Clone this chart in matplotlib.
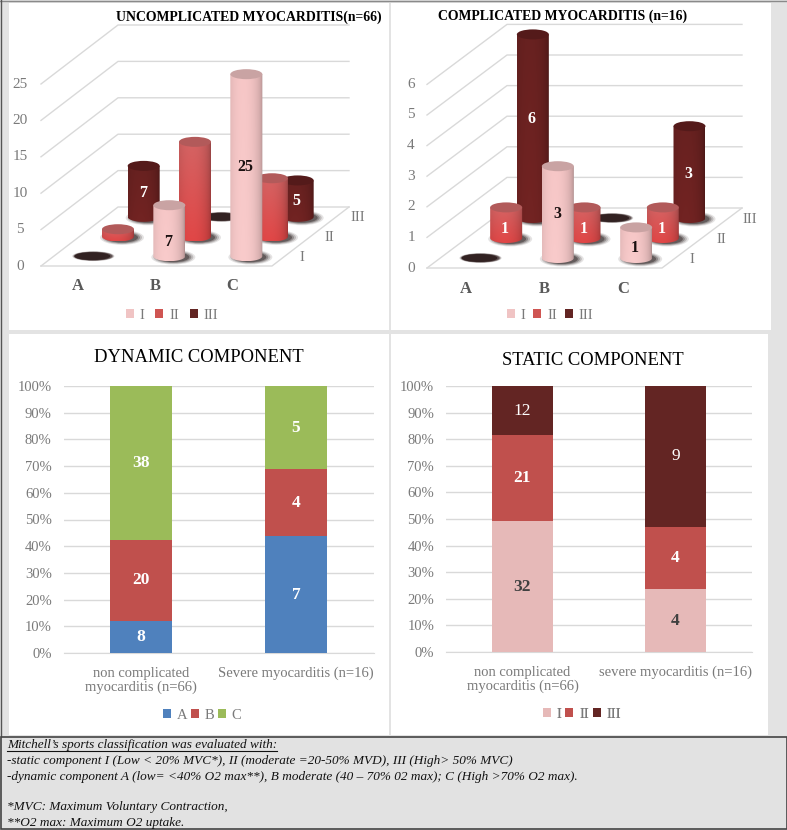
import matplotlib
matplotlib.use('Agg')
import matplotlib.pyplot as plt
import numpy as np
from matplotlib.colors import to_rgb
from matplotlib.patches import Ellipse, PathPatch, Patch, Rectangle
from matplotlib.path import Path

plt.rcParams['font.family'] = ['Liberation Serif', 'DejaVu Serif']

W, H = 787, 830

# top charts: counts per dynamic class A, B, C
categories_top = ['A', 'B', 'C']
static_names = ['I', 'II', 'III']
uncomp_I = [0, 7, 25]
uncomp_II = [1, 13, 8]
uncomp_III = [7, 0, 5]
uncomp_ticks = [0, 5, 10, 15, 20, 25]
comp_I = [0, 3, 1]
comp_II = [1, 1, 1]
comp_III = [6, 0, 3]
comp_ticks = [0, 1, 2, 3, 4, 5, 6]

# bottom charts
dyn_labels = ['non complicated\nmyocarditis (n=66)', 'Severe myocarditis (n=16)']
dyn_A = [8, 7]
dyn_B = [20, 4]
dyn_C = [38, 5]
sta_labels = ['non complicated\nmyocarditis (n=66)', 'severe myocarditis (n=16)']
sta_I = [32, 4]
sta_II = [21, 4]
sta_III = [12, 9]

notes = [
    "Mitchell\u2019s sports classification was evaluated with:",
    "-static component I (Low < 20% MVC*), II (moderate =20-50% MVD), III (High> 50% MVC)",
    "-dynamic component A (low= <40% O2 max**), B moderate (40 \u2013 70% 02 max); C (High >70% O2 max).",
    "",
    "*MVC: Maximum Voluntary Contraction,",
    "**O2 max: Maximum O2 uptake.",
]

PINK, RED, DARK = '#e6b9b8', '#c0504d', '#632523'
GRID = '#d9d9d9'
TICK = '#7a7a7a'
# body top colour, body bottom colour, lid colour
CYL = [('#edbfbf', '#efc3c3', '#c9a3a3'),
       ('#cc5f5f', '#d84444', '#b25a5a'),
       ('#64201f', '#6e2221', '#541a1a')]

fig = plt.figure(figsize=(W / 100, H / 100), dpi=100, facecolor='#e3e3e3')
bg = fig.add_axes([0, 0, 1, 1])
bg.set_xlim(0, W)
bg.set_ylim(H, 0)
bg.axis('off')
bg.autoscale(False)

for x0, y0, x1, y1 in [(9, 3, 389, 330), (391, 3, 771, 330), (9, 334, 389, 735), (391, 334, 768, 735)]:
    bg.add_patch(Rectangle((x0, y0), x1 - x0, y1 - y0, fc='white', ec='none', zorder=0))
bg.plot([0, W], [1, 1], color='#8a8a8a', lw=1, zorder=0.5)
bg.plot([0.5, 0.5], [0, 737], color='#555555', lw=1, zorder=0.5)


def add_legend(names, colors, xy, spacing):
    h = [Patch(fc=c, ec='none') for c in colors]
    leg = bg.legend(h, names, ncol=3, loc='center', bbox_to_anchor=xy, bbox_transform=bg.transData,
                    frameon=False, fontsize=10.5, labelcolor=TICK, handlelength=0.55, handleheight=0.55,
                    handletextpad=0.4, columnspacing=spacing)
    bg.add_artist(leg)


def cylinder(cx, base, h, r, ry, cols):
    # soft shadow on the floor
    for k, a in zip([6, 4, 2, 0], [0.12, 0.2, 0.3, 0.45]):
        bg.add_patch(Ellipse((cx + 4, base + 1), 2 * r + k * 2, 2 * ry + k * 0.8,
                             fc='#2a2020', ec='none', alpha=a, zorder=3))
    t = np.linspace(0, np.pi, 40)
    xs = np.concatenate([[cx - r, cx + r], cx + r * np.cos(t)])
    ys = np.concatenate([[base - h, base - h], base + ry * np.sin(t)])
    clip = PathPatch(Path(np.column_stack([xs, ys])), fc='none', ec='none', zorder=3)
    bg.add_patch(clip)
    # shading across the body, colour drifting a little from top to bottom
    u = (np.linspace(-1, 1, 60) + 0.2) / 1.2
    shade = 0.72 + 0.32 * np.sqrt(np.clip(1 - u ** 2, 0, 1))
    top, bot = np.array(to_rgb(cols[0])), np.array(to_rgb(cols[1]))
    mix = np.linspace(0, 1, 30)[:, None, None]
    img = (top[None, None, :] * (1 - mix) + bot[None, None, :] * mix) * shade[None, :, None]
    im = bg.imshow(np.clip(img, 0, 1), extent=(cx - r, cx + r, base + ry, base - h),
                   aspect='auto', zorder=3, interpolation='bilinear')
    im.set_clip_path(clip)
    bg.add_patch(Ellipse((cx, base - h), 2 * r, 2 * ry, fc=cols[2], ec='none', zorder=3))


def flat_disc(cx, base, r, ry):
    for k, a in zip([3, 2, 1], [0.2, 0.35, 0.5]):
        bg.add_patch(Ellipse((cx + 1, base), 2 * r + k * 2, 2 * ry + k * 0.6,
                             fc='#2a1818', ec='none', alpha=a, zorder=3))
    bg.add_patch(Ellipse((cx, base), 2 * r, 2 * ry, fc='#2a1a1a', ec='none', alpha=0.85, zorder=3))


def chart_3d(series, ticks, origin, width, depth, unit, cat_y, cat_shift, label_II, nudge, title, title_xy,
             tick_x, depth_labels, legend_xy, legend_gap):
    ox, oy = origin
    cat_w = width / len(categories_top)
    dx, dy = depth[0] / 3, depth[1] / 3

    def proj(c, s, v):
        # category, series row and value to position in the picture
        return ox + c * cat_w + s * dx, oy + s * dy - v * unit

    for v in ticks:
        a = proj(0, 0, v)
        b = proj(0, 3, v)
        c = proj(3, 3, v)
        bg.plot([a[0], b[0], c[0]], [a[1], b[1], c[1]], color=GRID, lw=1, zorder=1)
        bg.text(tick_x, a[1], str(v), color=TICK, fontsize=11, ha='center', va='center')
    f = [proj(0, 0, 0), proj(3, 0, 0), proj(3, 3, 0)]
    bg.plot([p[0] for p in f], [p[1] for p in f], color=GRID, lw=1, zorder=1)

    for i, name in enumerate(categories_top):
        bg.text(ox + (i + 0.5) * cat_w + cat_shift, cat_y, name, color='#595959', fontsize=12,
                fontweight='bold', ha='center', va='center')

    r, ry = 16, 5
    for s in [2, 1, 0]:
        for c, v in enumerate(series[s]):
            cx, base = proj(c + 0.5, s + 0.5, 0)
            if v == 0:
                flat_disc(cx, base, 18, 4)
                continue
            h = v * unit
            cylinder(cx, base, h, r, ry, CYL[s])
            if s == 1 and not label_II:
                continue
            bg.text(cx - 1, base - h / 2 + 2 + nudge.get((s, c), 0), str(v),
                    color='#1a1010' if s == 0 else 'white',
                    fontsize=11.5, fontweight='bold', ha='center', va='center', zorder=4)

    for name, (x, y) in zip(static_names, depth_labels):
        bg.text(x, y, name, color=TICK, fontsize=10.5, ha='center', va='center')
    bg.text(title_xy[0], title_xy[1], title, color='black', fontsize=9.95, fontweight='bold',
            ha='left', va='center')
    add_legend(static_names, ('#f0c4c4', '#cf5552', DARK), legend_xy, legend_gap)


chart_3d([uncomp_I, uncomp_II, uncomp_III], uncomp_ticks, (41, 266), 231, (77, -59), 7.28,
         286, -1.5, False, {(0, 1): 9}, 'UNCOMPLICATED MYOCARDITIS(n=66)', (116, 17), 20,
         [(302, 257), (329, 237), (358, 217)], (172, 315), 0.75)
chart_3d([comp_I, comp_II, comp_III], comp_ticks, (427, 268), 235, (80, -60), 30.6,
         289, 0, True, {(2, 0): -9, (1, 0): 4, (1, 1): 4, (1, 2): 4, (0, 2): 3},
         'COMPLICATED MYOCARDITIS (n=16)', (438, 16), 411,
         [(692, 259), (721, 239), (750, 219)], (550, 315), 0.55)


def stacked(box, counts, colors, names, cats, label_style, title, title_xy, legend_xy):
    x0, y0, x1, y1 = box
    ax = fig.add_axes([x0 / W, 1 - y1 / H, (x1 - x0) / W, (y1 - y0) / H])
    ax.patch.set_alpha(0)
    pos = np.arange(len(cats))
    totals = np.sum(counts, axis=0)
    bottom = np.zeros(len(cats))
    for vals, col, name, (txt_col, wgt) in zip(counts, colors, names, label_style):
        pct = 100 * np.array(vals) / totals
        ax.bar(pos, pct, 0.4, bottom=bottom, color=col, label=name, zorder=3)
        for p, b, q, v in zip(pos, bottom, pct, vals):
            ax.text(p, b + q / 2, str(v), color=txt_col, fontsize=12.5, fontweight=wgt,
                    ha='center', va='center', zorder=4)
        bottom = bottom + pct
    ax.set_xlim(-0.5, len(cats) - 0.5)
    ax.set_ylim(0, 100)
    ax.set_yticks(range(0, 101, 10))
    ax.set_yticklabels([f'{v}%' for v in range(0, 101, 10)], color=TICK, fontsize=10.5)
    ax.set_xticks(pos)
    ax.set_xticklabels(cats, color=TICK, fontsize=10.5, linespacing=1.1)
    ax.tick_params(length=0)
    ax.tick_params(axis='y', pad=8.5)
    ax.tick_params(axis='x', pad=10)
    ax.grid(axis='y', color=GRID, lw=1, zorder=0)
    ax.set_axisbelow(True)
    for side in ['top', 'left', 'right']:
        ax.spines[side].set_visible(False)
    ax.spines['bottom'].set_color(GRID)
    bg.text(title_xy[0], title_xy[1], title, color='black', fontsize=13.4, ha='center', va='center')
    add_legend(names, colors, legend_xy, 0.25)


stacked((63.5, 386, 373.5, 653), [dyn_A, dyn_B, dyn_C], ['#4f81bd', RED, '#9bbb59'],
        ['A', 'B', 'C'], dyn_labels,
        [('white', 'bold')] * 3, 'DYNAMIC COMPONENT', (199, 357), (202, 715))
stacked((446, 386, 752, 652), [sta_I, sta_II, sta_III], [PINK, RED, DARK],
        static_names, sta_labels,
        [('#404040', 'bold'), ('white', 'bold'), ('white', 'normal')],
        'STATIC COMPONENT', (593, 360), (582, 714))

# footnote box
bg.add_patch(Rectangle((0.5, 737), W - 1, 92, fc='#e2e2e2', ec='#444444', lw=1.2, zorder=1))
for i, (line, y) in enumerate(zip(notes, [745, 761, 777, 793, 807, 823])):
    t = bg.text(7, y, line, color='#111111', fontsize=9.55, style='italic', ha='left', va='center', zorder=2)
    if i == 0:
        bb = t.get_window_extent(fig.canvas.get_renderer()).transformed(bg.transData.inverted())
        bg.plot([bb.x0, bb.x1], [y + 6, y + 6], color='#111111', lw=0.8, zorder=2)

fig.savefig('out.png', dpi=100, facecolor=fig.get_facecolor())
